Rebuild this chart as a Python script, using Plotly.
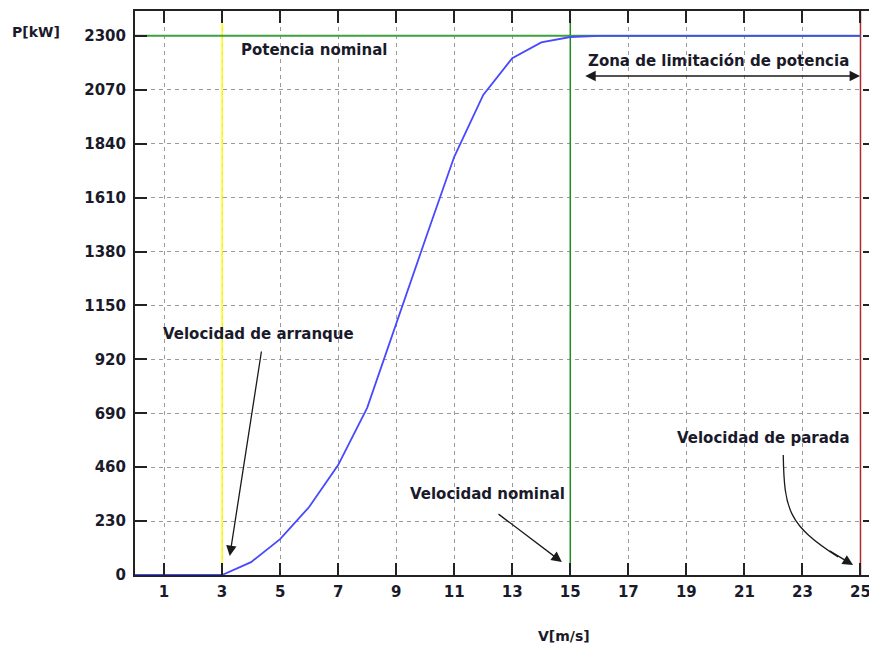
import plotly.graph_objects as go

# ---- data ----
velocidad = list(range(0, 26))
potencia = [0, 0, 0, 0, 55, 153, 290, 469, 713, 1075, 1430, 1784, 2048, 2205,
            2272, 2295, 2300, 2300, 2300, 2300, 2300, 2300, 2300, 2300, 2300, 2300]
x_ticks = [1, 3, 5, 7, 9, 11, 13, 15, 17, 19, 21, 23, 25]
y_ticks = [0, 230, 460, 690, 920, 1150, 1380, 1610, 1840, 2070, 2300]
v_arranque = 3
v_nominal = 15
v_parada = 25
p_nominal = 2300

X_MAX = 25.5
Y_MAX = 2406

# ---- layout geometry (window pixels; page body has an 8px margin) ----
OFF = 8
W, H = 877 - OFF, 648 - OFF
PL, PT, PR, PB = 135, 11, 877, 575      # plot area in window pixels
ML, MT = PL - OFF, PT - OFF
MR = (W + OFF) - PR
MB = (H + OFF) - PB
PW = PR - PL
PH = PB - PT


def dx(px):
    return (px - PL) / PW * X_MAX


def dy(py):
    return (PB - py) / PH * Y_MAX


def paper_x(px):
    return (px - PL) / PW


def paper_y(py):
    return (PB - py) / PH


FONT = "DejaVu Sans"
TXT = "#1a1a2a"

fig = go.Figure()

# reference lines
fig.add_trace(go.Scatter(x=[v_arranque, v_arranque], y=[0, Y_MAX], mode="lines",
                         line=dict(color="#ffff00", width=1.5), hoverinfo="skip"))
fig.add_trace(go.Scatter(x=[v_nominal, v_nominal], y=[0, Y_MAX], mode="lines",
                         line=dict(color="#1f8a1f", width=1.5), hoverinfo="skip"))
fig.add_trace(go.Scatter(x=[v_parada, v_parada], y=[0, Y_MAX], mode="lines",
                         line=dict(color="#b02a2a", width=1.5), hoverinfo="skip"))
fig.add_trace(go.Scatter(x=[0, v_parada], y=[p_nominal, p_nominal], mode="lines",
                         line=dict(color="#3fa03f", width=2), hoverinfo="skip"))
# power curve
fig.add_trace(go.Scatter(x=velocidad, y=potencia, mode="lines",
                         line=dict(color="#4848ff", width=1.8)))

ann = []


def text(s, px, py):
    ann.append(dict(text=s, x=dx(px), y=dy(py), xref="x", yref="y", showarrow=False,
                    font=dict(family=FONT, size=15, color=TXT, weight="bold"),
                    xanchor="center", yanchor="middle"))


def arrow(x0, y0, x1, y1, side="end"):
    ann.append(dict(text="", x=dx(x1), y=dy(y1), ax=dx(x0), ay=dy(y0),
                    xref="x", yref="y", axref="x", ayref="y", showarrow=True,
                    arrowhead=2, startarrowhead=2, arrowsize=1.6, startarrowsize=1.6,
                    arrowwidth=1.3, arrowcolor="#1a1a1a", arrowside=side))


text("Potencia nominal", 314, 50)
text("Zona de limitación de potencia", 720, 61)
text("Velocidad de arranque", 259, 334)
text("Velocidad nominal", 488, 494)
text("Velocidad de parada", 765, 438)

arrow(585, 76, 862, 76, side="end+start")
arrow(262, 350, 230, 556)
arrow(498, 513, 563, 562)
arrow(830, 550, 855, 565)

# axis titles
ann.append(dict(text="P[kW]", x=paper_x(36), y=paper_y(32), xref="paper", yref="paper",
                showarrow=False, font=dict(family=FONT, size=14, color=TXT, weight="bold"),
                xanchor="center", yanchor="middle"))
ann.append(dict(text="V[m/s]", x=paper_x(565), y=paper_y(636), xref="paper", yref="paper",
                showarrow=False, font=dict(family=FONT, size=14, color=TXT, weight="bold"),
                xanchor="center", yanchor="middle"))

# curved arrow shaft for "Velocidad de parada"
path = "M {:.4f},{:.4f} C {:.4f},{:.4f} {:.4f},{:.4f} {:.4f},{:.4f}".format(
    dx(785), dy(455), dx(786), dy(510), dx(790), dy(525), dx(840), dy(557))

fig.update_layout(
    width=W, height=H,
    margin=dict(l=ML, r=MR, t=MT, b=MB),
    paper_bgcolor="white", plot_bgcolor="white",
    showlegend=False,
    annotations=ann,
    shapes=[dict(type="path", path=path, xref="x", yref="y",
                 line=dict(color="#1a1a1a", width=1.3))],
    font=dict(family=FONT, color=TXT),
)

axis_common = dict(
    showline=True, linecolor="#222222", linewidth=2, mirror="ticks",
    ticks="inside", ticklen=12, tickwidth=2, tickcolor="#222222",
    showgrid=True, gridcolor="#9a9a9a", gridwidth=1, griddash="4px,4px",
    zeroline=False,
    tickfont=dict(family=FONT, size=15, color=TXT, weight="bold"),
)
fig.update_xaxes(range=[0, X_MAX], tickvals=x_ticks, ticktext=[str(v) for v in x_ticks],
                 ticklabelstandoff=2, **axis_common)
fig.update_yaxes(range=[0, Y_MAX], tickvals=y_ticks, ticktext=[str(v) for v in y_ticks],
                 ticklabelstandoff=4, **axis_common)

fig.write_html("out.html")
